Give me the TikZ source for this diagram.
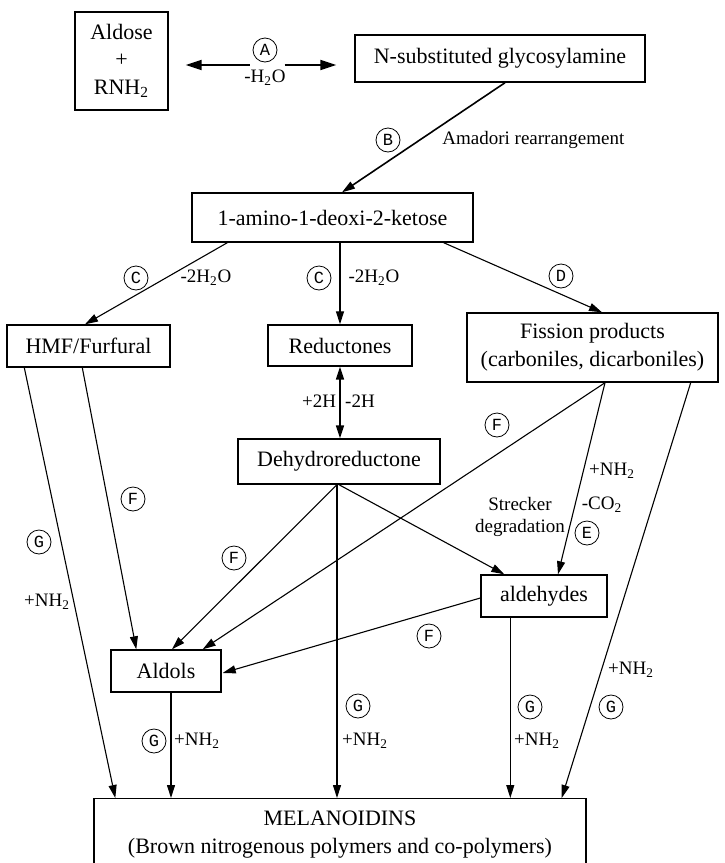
\documentclass[tikz,border=0pt]{standalone}
\usepackage{fontspec}
\setmainfont{Liberation Serif}
\newfontfamily\circfont{Liberation Mono}
\usetikzlibrary{arrows.meta,calc}
\begin{document}
\begin{tikzpicture}[x=0.5pt,y=-0.5pt,
  bx/.style 2 args={draw, line width=0.7pt, inner sep=0pt, align=center,
    font=\fontsize{11}{13.8}\selectfont, minimum width=#1*0.5pt, minimum height=#2*0.5pt},
  ln/.style={line width=0.55pt},
  ar/.style={ln, -{Triangle[length=6.5pt,width=4pt]}},
  dar/.style={line width=0.8pt, {Triangle[length=6.5pt,width=4pt]}-{Triangle[length=6.5pt,width=4pt]}},
  arA/.style={line width=1pt, -{Triangle[length=8pt,width=5pt]}},
  circ/.style={circle, draw, line width=0.4pt, inner sep=0pt, minimum size=12pt,
    font=\circfont\fontsize{8.5}{8.5}\selectfont},
  lab/.style={font=\fontsize{9.5}{10}\selectfont, inner sep=0pt}
]
\useasboundingbox (0,0) rectangle (724,863);
\clip (0,0) rectangle (724,863);

% boxes
\node[bx={93}{98}] (aldose) at (121.5,61) {Aldose\\+\\RNH\textsubscript{2}};
\node[bx={290}{47}] (nsub) at (500,58.5) {N-substituted glycosylamine};
\node[bx={281}{49}] (amino) at (332.5,217.5) {1-amino-1-deoxi-2-ketose};
\node[bx={163}{42}] (hmf) at (88.5,346) {HMF/Furfural};
\node[bx={144}{41}] (red) at (340,345.5) {Reductones};
\node[bx={251}{69}] (fis) at (592.5,347.5) {Fission products\\(carboniles, dicarboniles)};
\node[bx={202}{45}] (dehy) at (339,461.5) {Dehydroreductone};
\node[bx={126}{42}] (aldh) at (544,596) {aldehydes};
\node[bx={110}{42}] (aldol) at (166,671) {Aldols};
\node[bx={492}{72}, anchor=north] (mel) at (340,798) {MELANOIDINS\\(Brown nitrogenous polymers and co-polymers)};

% A
\coordinate (am) at (266.5,65);
\draw[arA] ($(am)+(-17,0)$) -- ($(aldose.east |- am)+(17,0)$);
\draw[arA] ($(am)+(18,0)$) -- ($(nsub.west |- am)+(-18,0)$);
\node[circ] (cA) at (265,50) {A};
\node[lab] (lA) at (265,78) {-H\textsubscript{2}O};

% B
\draw[ar, line width=0.8pt] ($(nsub.south)+(5,0)$) -- ($(amino.north)+(9.5,0)$);
\node[circ] (cB) at (388,140) {B};
\node[lab, anchor=west] (lB) at (442,140) {Amadori rearrangement};

% C, D
\draw[ar] ($(amino.south west)+(36,0)$) -- ($(hmf.north)+(-3.5,0)$);
\node[circ] (cC1) at (136,278) {C};
\node[lab] (lC1) at (206,278) {-2H\textsubscript{2}O};
\draw[ar] ($(amino.south)+(7.5,0)$) -- (red.north);
\node[circ] (cC2) at (319,278) {C};
\node[lab] (lC2) at (374,278) {-2H\textsubscript{2}O};
\draw[ar] ($(amino.south east)+(-30,0)$) -- ($(fis.north)+(9.5,0)$);
\node[circ] (cD) at (561,276) {D};

% Reductones <-> Dehydroreductone
\draw[dar] (red.south) -- (red.south |- dehy.north);
\node[lab] (l2H1) at (319,401) {+2H};
\node[lab] (l2H2) at (360,401) {-2H};

% HMF
\draw[ar] ($(hmf.south west)+(18,0)$) -- ($(mel.north west)+(22,0)$);
\node[circ] (cG1) at (39,542) {G};
\node[lab] (lG1) at (47,602) {+NH\textsubscript{2}};
\draw[ar] ($(hmf.south west)+(76,0)$) -- ($(aldol.north west)+(26,0)$);
\node[circ] (cF1) at (133,499) {F};

% Fission
\coordinate (f0) at ($(fis.south)+(12.5,0)$);
\draw[ar] (f0) -- ($(aldol.north east)+(-19,0)$);
\node[circ] (cF2) at (497,425) {F};
\draw[ar] (f0) -- ($(aldh.north)+(14,0)$);
\node[lab] (lE1) at (612,471) {+NH\textsubscript{2}};
\node[lab] (lE2) at (602,505) {-CO\textsubscript{2}};
\node[lab, align=center, font=\fontsize{9.5}{11}\selectfont] (lStr) at (520,517) {Strecker\\degradation};
\node[circ] (cE) at (587,533) {E};
\draw[ar] ($(fis.south east)+(-28,0)$) -- ($(mel.north east)+(-25,0)$);
\node[lab] (lG5) at (631,670) {+NH\textsubscript{2}};
\node[circ] (cG5) at (611,707) {G};

% Dehydroreductone
\coordinate (d0) at ($(dehy.south)+(-2,0)$);
\draw[ar] (d0) -- ($(aldol.north)+(6,0)$);
\node[circ] (cF3) at (234,558) {F};
\draw[ar] (d0) -- (d0 |- mel.north);
\node[circ] (cG3) at (358,706) {G};
\node[lab] (lG3) at (365,741) {+NH\textsubscript{2}};
\draw[ar] (dehy.south) -- ($(aldh.north west)+(24,0)$);

% aldehydes
\draw[ar] ($(aldh.west)+(0,2)$) -- ($(aldol.east)+(1,2)$);
\node[circ] (cF4) at (429,636) {F};
\coordinate (a0) at ($(aldh.south west)+(30,0)$);
\draw[ar] (a0) -- (a0 |- mel.north);
\node[circ] (cG4) at (530,707) {G};
\node[lab] (lG4) at (537,741) {+NH\textsubscript{2}};

% Aldols
\coordinate (o0) at ($(aldol.south)+(5,0)$);
\draw[ar] (o0) -- (o0 |- mel.north);
\node[circ] (cG2) at (154,741) {G};
\node[lab] (lG2) at (197,741) {+NH\textsubscript{2}};
\end{tikzpicture}
\end{document}
